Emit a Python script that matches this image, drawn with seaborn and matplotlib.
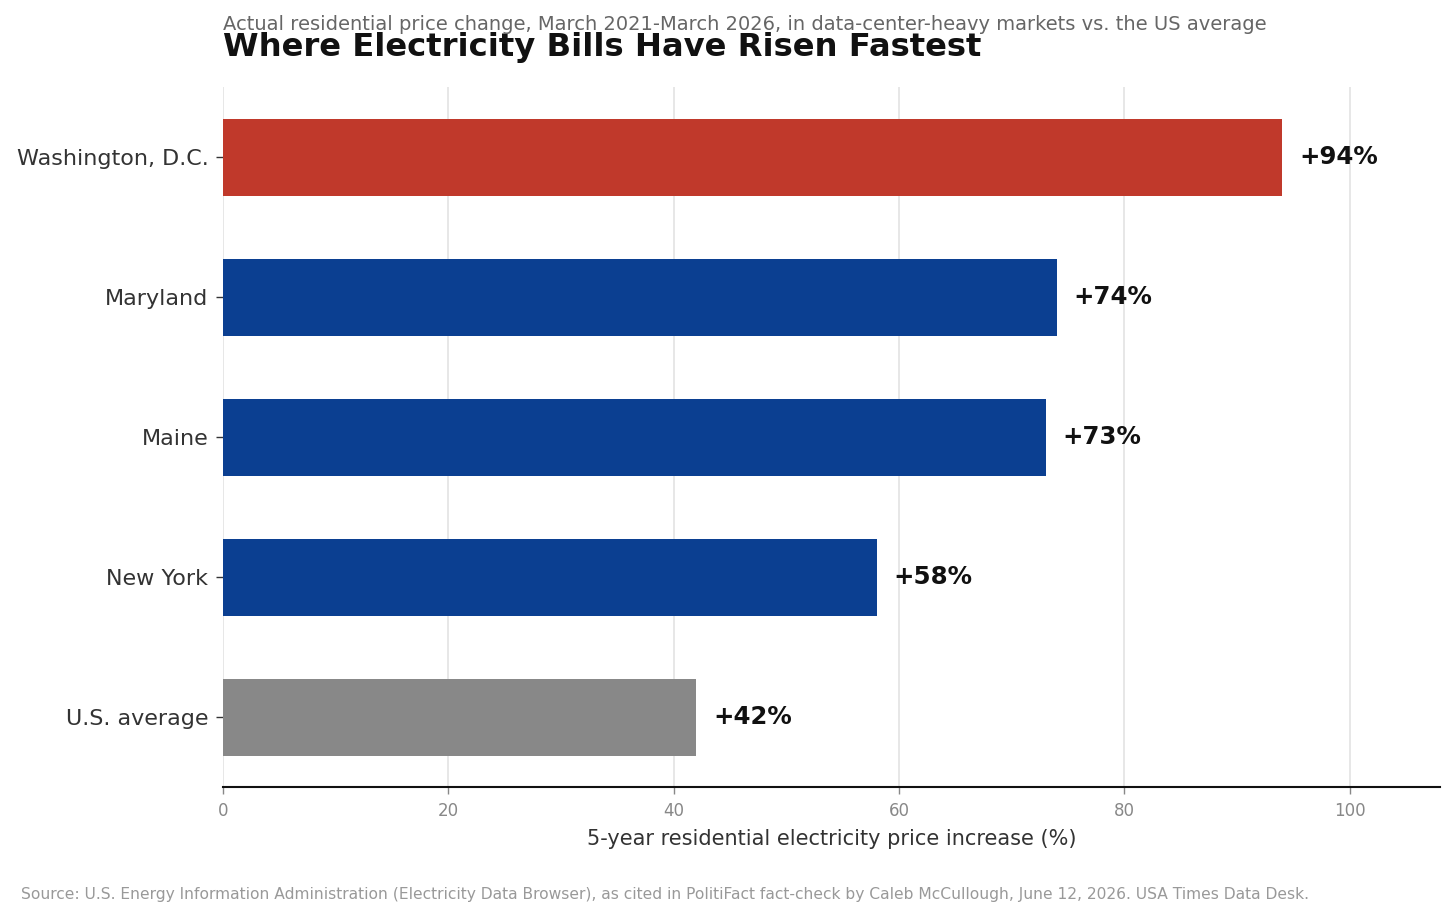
import seaborn as sns
import matplotlib.pyplot as plt
import pandas as pd

regions = ['Washington, D.C.', 'Maryland', 'Maine', 'New York', 'U.S. average']
increase = [94, 74, 73, 58, 42]
bar_colors = ['#C0392B', '#0B3F91', '#0B3F91', '#0B3F91', '#888888']

df = pd.DataFrame({'region': regions, 'increase': increase})

sns.set_style('white')
plt.rcParams['font.family'] = ['DejaVu Sans']

fig = plt.figure(figsize=(14.56, 9.19), dpi=100)
ax = fig.add_axes([223 / 1456, 1 - 787 / 919, (1440 - 223) / 1456, 700 / 919])

sns.barplot(data=df, x='increase', y='region', hue='region', palette=bar_colors,
            width=0.55, legend=False, ax=ax, saturation=1, linewidth=0)

for i, v in enumerate(increase):
    ax.text(v + 1.5, i, f'+{v}%', va='center', ha='left', fontsize=17.6,
            fontweight='bold', color='#111111')

ax.set_xlim(0, 108)
ax.set_ylim(4.5, -0.5)
ax.set_xticks([0, 20, 40, 60, 80, 100])
ax.xaxis.grid(True, color='#e3e3e3', linewidth=1.2)
ax.set_axisbelow(True)
for s in ['top', 'right', 'left']:
    ax.spines[s].set_visible(False)
ax.spines['bottom'].set_color('#111111')
ax.spines['bottom'].set_linewidth(1.5)
ax.tick_params(axis='x', bottom=True, color='#888888', labelcolor='#888888',
               labelsize=12, length=5, width=1, pad=5.5)
ax.tick_params(axis='y', left=True, color='#333333', labelcolor='#333333',
               labelsize=16, length=5, width=1, pad=5.5)
ax.set_ylabel('')
ax.set_xlabel('5-year residential electricity price increase (%)', fontsize=15,
              color='#333333', labelpad=7)

fig.text(223 / 1456, 1 - 47.5 / 919, 'Where Electricity Bills Have Risen Fastest',
         fontsize=23.2, fontweight='bold', color='#111111', ha='left', va='center')
fig.text(223 / 1456, 1 - 25 / 919,
         'Actual residential price change, March 2021-March 2026, in data-center-heavy markets vs. the US average',
         fontsize=14, color='#666666', ha='left', va='center')
fig.text(21 / 1456, 1 - 895 / 919,
         'Source: U.S. Energy Information Administration (Electricity Data Browser), as cited in PolitiFact fact-check by Caleb McCullough, June 12, 2026. USA Times Data Desk.',
         fontsize=11.15, color='#999999', ha='left', va='center')

fig.savefig('out.png', dpi=100)
